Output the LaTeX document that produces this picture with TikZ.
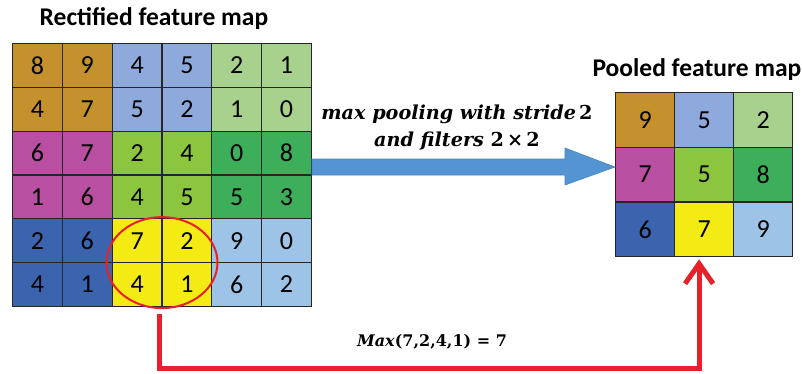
\documentclass[tikz,border=0pt]{standalone}
\usepackage{fontspec}
\setmainfont{Carlito}
\newfontfamily\labfont{DejaVu Serif}
\usetikzlibrary{shapes.geometric,arrows.meta,calc}
\definecolor{blkAA}{HTML}{C4912D}
\definecolor{blkAB}{HTML}{8EA9DB}
\definecolor{blkAC}{HTML}{A9D18E}
\definecolor{blkBA}{HTML}{B94FA0}
\definecolor{blkBB}{HTML}{8CC63E}
\definecolor{blkBC}{HTML}{3DAF5B}
\definecolor{blkCA}{HTML}{3B63AE}
\definecolor{blkCB}{HTML}{F4EA14}
\definecolor{blkCC}{HTML}{9DC3E6}
\definecolor{arrowblue}{HTML}{5494D3}
\definecolor{arrowblueline}{HTML}{4A86C0}
\definecolor{redline}{HTML}{E8202A}
\newcommand{\up}[1]{\textup{#1}}
\begin{document}
\begin{tikzpicture}[x=1pt,y=-1pt,
  gridcell/.style={draw=black!85, line width=1.2pt, inner sep=0pt, anchor=north west,
    font=\fontsize{26}{26}\selectfont},
  lcell/.style={gridcell, minimum width=49.8pt, minimum height=43.8pt},
  pcell/.style={gridcell, minimum width=59pt, minimum height=54.7pt},
  maptitle/.style={font=\fontsize{25.5}{25.5}\selectfont\bfseries},
  mathlabel/.style={font=\labfont\fontsize{19.2}{19.2}\selectfont\bfseries\itshape},
  redarrow/.style={draw=redline, line width=5pt, -{Straight Barb[length=20pt,width=28pt]}}
]
\useasboundingbox (0,0) rectangle (802,373);
\def\blk{{"A","B","C"}}
% left grid
\foreach \rowvals [count=\r] in {{8,9,4,5,2,1},{4,7,5,2,1,0},{6,7,2,4,0,8},{1,6,4,5,5,3},{2,6,7,2,9,0},{4,1,4,1,6,2}}{
  \foreach \v [count=\c] in \rowvals {
    \pgfmathsetmacro\bi{\blk[int((\r-1)/2)]}
    \pgfmathsetmacro\bj{\blk[int((\c-1)/2)]}
    \node[lcell, fill=blk\bi\bj] (L-\r-\c) at ({12+(\c-1)*49.8},{43+(\r-1)*43.8}) {\v};
  }
}
% pooled grid
\foreach \rowvals [count=\r] in {{9,5,2},{7,5,8},{6,7,9}}{
  \foreach \v [count=\c] in \rowvals {
    \pgfmathsetmacro\bi{\blk[\r-1]}
    \pgfmathsetmacro\bj{\blk[\c-1]}
    \node[pcell, fill=blk\bi\bj] (P-\r-\c) at ({615+(\c-1)*59},{92+(\r-1)*54.7}) {\v};
  }
}
% titles
\node[maptitle] (tL) at (154,19) {Rectified feature map};
\node[maptitle] (tP) at (697,70) {Pooled feature map};
% labels
\node[mathlabel] (labA) at (457,114) {max pooling with stride\,\up{2}};
\node[mathlabel] (labB) at (457,141) {and filters \up{2\,×\,2}};
\node[mathlabel, font=\labfont\fontsize{16}{16}\selectfont\bfseries\itshape] (mx) at (432,342) {Max\up{(7,2,4,1) = 7}};
% blue arrow
\coordinate (bs) at ($(L-1-6.north east)+(0,124)$);
\coordinate (bt) at (P-2-1.west |- bs);
\draw[fill=arrowblue, draw=arrowblueline, line width=0.6pt]
  ($(bs)+(0,-8)$) -- ($(bt)+(-50,-8)$) -- ($(bt)+(-50,-19)$) -- (bt)
  -- ($(bt)+(-50,18)$) -- ($(bt)+(-50,8)$) -- ($(bs)+(0,8)$) -- cycle;
% ellipse
\coordinate (ec) at ($(L-5-3.north west)!0.5!(L-6-4.south east)$);
\node[ellipse, draw=redline, line width=2pt, minimum width=111pt, minimum height=91pt, inner sep=0pt] (E) at (ec) {};
% red connector
\coordinate (rs) at ($(E.south)+(-3,5)$);
\coordinate (rc) at ($(rs)+(0,54)$);
\coordinate (rtop) at ($(P-3-2.south)+(-5,2)$);
\coordinate (rcorner) at (rtop |- rc);
\draw[redarrow] (rs) -- (rc) -- (rcorner) -- (rtop);
\end{tikzpicture}
\end{document}
